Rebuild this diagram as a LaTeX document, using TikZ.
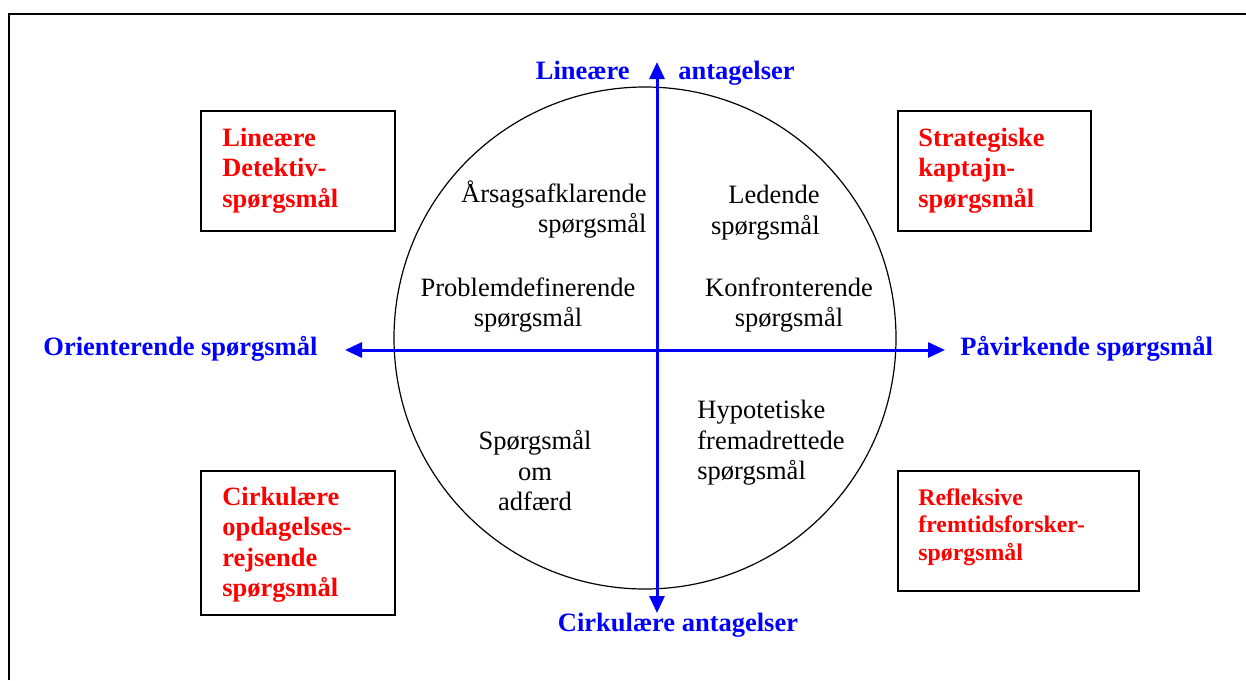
\documentclass[tikz,border=0pt]{standalone}
\usepackage{fontspec}
\setmainfont{Liberation Serif}
\usetikzlibrary{arrows.meta}

\begin{document}
\begin{tikzpicture}[x=0.5pt,y=-0.5pt,
  every node/.style={inner sep=0pt},
  axis/.style={draw=blue, line width=1.5pt,
    {Triangle[length=8.5pt,width=7.5pt]}-{Triangle[length=8.5pt,width=7.5pt]}},
  axislabel/.style={text=blue, font=\fontsize{13.25}{15.5}\selectfont\bfseries},
  question/.style={font=\fontsize{13.25}{15.3}\selectfont},
  qbox/.style={draw, line width=1pt, anchor=north west},
  qboxlabel/.style={text=red, align=left, anchor=north west,
    font=\fontsize{13.2}{15.1}\selectfont\bfseries}]
\useasboundingbox (0,0) rectangle (1246,680);
% Frame
\draw[line width=1pt] (9,680) -- (9,14) -- (1246,14);
% Circle and axes
\node[circle, draw, line width=0.6pt, minimum size=251pt] (wheel) at (645,338) {};
\coordinate (top) at (657,62);
\coordinate (bottom) at (657,613);
\coordinate (left) at (345,350);
\coordinate (right) at (945,350);
\draw[axis] (bottom) -- (top);
\draw[axis] (left) -- (right);
% Axis labels
\node[axislabel, anchor=base east] (linear) at (630,79) {Lineære};
\node[axislabel, anchor=base west] (assume) at (678,79) {antagelser};
\node[axislabel, anchor=base] (circular) at (678,631) {Cirkulære antagelser};
\node[axislabel, anchor=base west] (orient) at (43,355) {Orienterende spørgsmål};
\node[axislabel, anchor=base west] (influence) at (960,355) {Påvirkende spørgsmål};
% Questions in the circle
\node[question, align=right, anchor=north east] (cause) at (647,180) {Årsagsafklarende\\spørgsmål};
\node[question, align=right, anchor=north east] (leading) at (820,185) {Ledende\\spørgsmål};
\node[question, align=center, anchor=north] (problem) at (528,277) {Problemdefinerende\\spørgsmål};
\node[question, align=center, anchor=north] (confront) at (789,277) {Konfronterende\\spørgsmål};
\node[question, align=center, anchor=north] (behaviour) at (535,430) {Spørgsmål\\om\\adfærd};
\node[question, align=left, anchor=north west] (hypo) at (697,400) {Hypotetiske\\fremadrettede\\spørgsmål};
% Corner boxes
\node[qbox, minimum width=97pt, minimum height=60pt] (detective) at (200,110) {};
\node[qbox, minimum width=96.5pt, minimum height=60pt] (captain) at (897,110) {};
\node[qbox, minimum width=97pt, minimum height=72pt] (explorer) at (200,470) {};
\node[qbox, minimum width=120.5pt, minimum height=60pt] (future) at (897,470) {};
\node[qboxlabel] (detectivetext) at (222,128) {Lineære\\Detektiv-\\spørgsmål};
\node[qboxlabel] (captaintext) at (918,128) {Strategiske\\kaptajn-\\spørgsmål};
\node[qboxlabel] (explorertext) at (222,487) {Cirkulære\\opdagelses-\\rejsende\\spørgsmål};
\node[qboxlabel, font=\fontsize{11.9}{13.8}\selectfont\bfseries] (futuretext) at (918,488) {Refleksive\\fremtidsforsker-\\spørgsmål};
\end{tikzpicture}
\end{document}
